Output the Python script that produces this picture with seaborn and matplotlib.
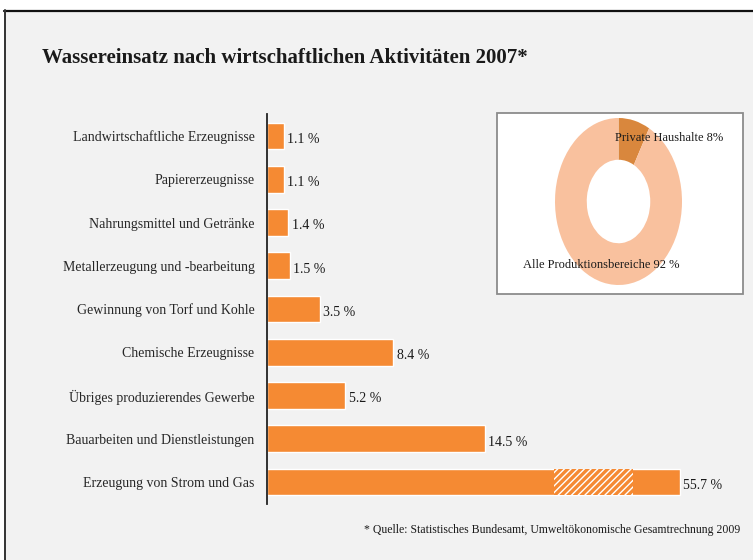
import numpy as np
import matplotlib
matplotlib.use("Agg")
import matplotlib.pyplot as plt
from matplotlib.patches import Rectangle
from matplotlib.lines import Line2D
import seaborn as sns

# data
categories = [
    "Landwirtschaftliche Erzeugnisse",
    "Papiererzeugnisse",
    "Nahrungsmittel und Getränke",
    "Metallerzeugung und -bearbeitung",
    "Gewinnung von Torf und Kohle",
    "Chemische Erzeugnisse",
    "Übriges produzierendes Gewerbe",
    "Bauarbeiten und Dienstleistungen",
    "Erzeugung von Strom und Gas",
]
shares = np.array([1.1, 1.1, 1.4, 1.5, 3.5, 8.4, 5.2, 14.5, 55.7])
donut_labels = ["Private Haushalte 8%", "Alle Produktionsbereiche 92 %"]
donut_values = [8, 92]

# the long bar is drawn with an axis break
break_cap = 27.5
break_span = (19.1, 24.4)
display = np.minimum(shares, break_cap)

orange = "#f58a33"
donut_colors = ["#d9873d", "#f9c19e"]
bg = "#f2f2f2"
serif = ["Liberation Serif", "DejaVu Serif"]

sns.set_theme(style="white")
plt.rcParams["font.family"] = serif
plt.rcParams["text.color"] = "#1a1a1a"

W, H = 753, 560
fig = plt.figure(figsize=(W / 100, H / 100), dpi=100)
fig.patch.set_facecolor("white")

def fx(px):
    return px / W

def fy(py):
    return 1 - py / H

# grey panel with dark top/left border
fig.add_artist(Rectangle((fx(4), 0), 1 - fx(4), fy(10), transform=fig.transFigure,
                         facecolor=bg, edgecolor="none", zorder=-5))
fig.add_artist(Line2D([fx(4), 1], [fy(10.5), fy(10.5)], transform=fig.transFigure,
                      color="#111111", lw=1.6, zorder=-4))
fig.add_artist(Line2D([fx(4.5), fx(4.5)], [0, fy(10)], transform=fig.transFigure,
                      color="#333333", lw=1.4, zorder=-4))

# bar chart
ax = fig.add_axes([fx(267), fy(503.6), fx(745) - fx(267), fy(114.4) - fy(503.6)])
ax.set_facecolor("none")
sns.barplot(x=display, y=categories, orient="h", color=orange, width=0.62,
            saturation=1, ax=ax)
n = len(categories)
ax.barh(n - 1, break_span[1] - break_span[0], left=break_span[0], height=0.62,
        color=orange, hatch="/////", edgecolor="white", lw=0)
for i, (v, d) in enumerate(zip(shares, display)):
    ax.text(d + 0.25, i + 0.08, f"{v:.1f} %", va="center", ha="left", fontsize=10)
ax.set_xlim(0, (745 - 267) / 15)
ax.set_ylim(n - 0.5, -0.5)
ax.set_xlabel("")
ax.set_ylabel("")
ax.set_xticks([])
ax.tick_params(axis="y", length=0, pad=9, labelsize=10)
for s in ["top", "right", "bottom"]:
    ax.spines[s].set_visible(False)
ax.spines["left"].set_color("#222222")
ax.spines["left"].set_linewidth(1.3)

# inset donut
fig.add_artist(Rectangle((fx(497), fy(294)), fx(743) - fx(497), fy(113) - fy(294),
                         transform=fig.transFigure, facecolor="white",
                         edgecolor="#8c8c8c", lw=1.3, zorder=-3))
ax2 = fig.add_axes([fx(555), fy(285), fx(682) - fx(555), fy(118) - fy(285)])
ax2.pie(donut_values, colors=donut_colors, startangle=90, counterclock=False,
        wedgeprops=dict(width=0.5, linewidth=0))
ax2.set_aspect("auto")
ax2.set_xlim(-1, 1)
ax2.set_ylim(-1, 1)
ax2.set_facecolor("none")
fig.text(fx(615), fy(138), donut_labels[0], fontsize=9, va="center", ha="left")
fig.text(fx(523), fy(265), donut_labels[1], fontsize=9, va="center", ha="left")

# title and source
fig.text(fx(42), fy(58), "Wassereinsatz nach wirtschaftlichen Aktivitäten 2007*",
         fontsize=15, fontweight="bold", va="center", ha="left")
fig.text(fx(740), fy(530),
         "* Quelle: Statistisches Bundesamt, Umweltökonomische Gesamtrechnung 2009",
         fontsize=8.5, va="center", ha="right")

fig.savefig("out.png", dpi=100)
